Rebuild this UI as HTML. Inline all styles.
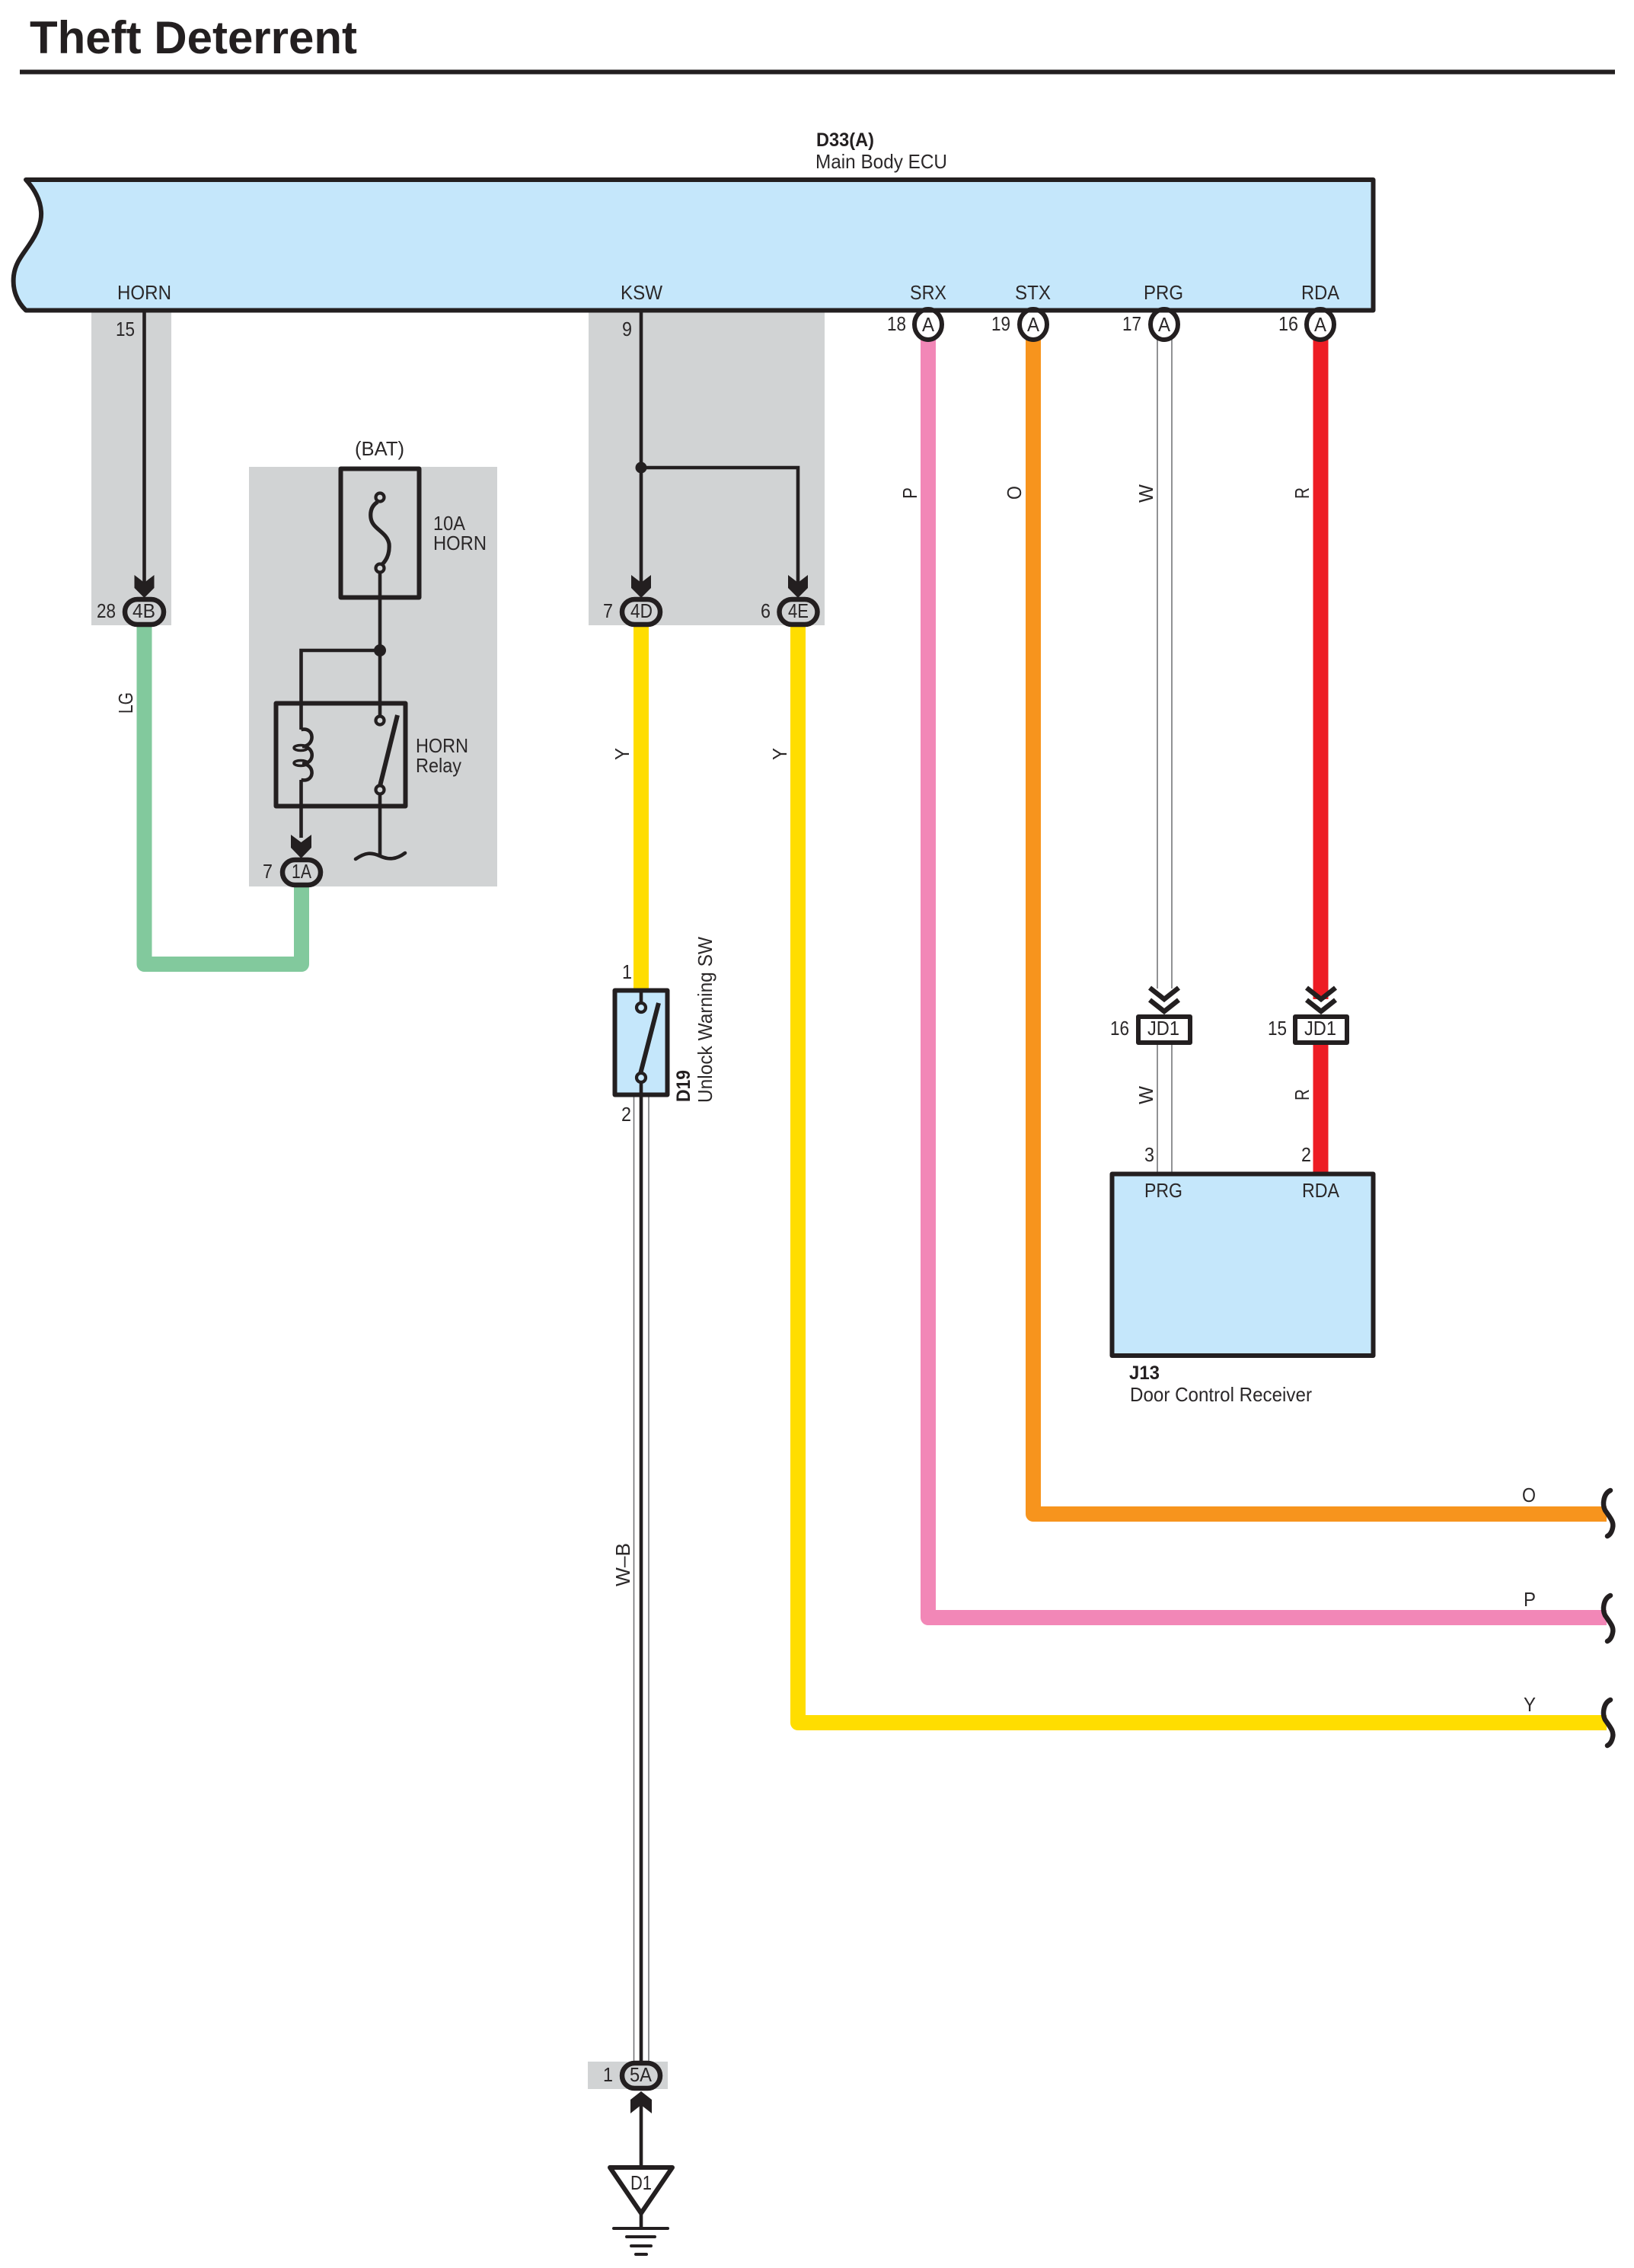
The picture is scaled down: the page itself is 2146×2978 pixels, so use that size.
<!DOCTYPE html>
<html><head><meta charset="utf-8"><title>Theft Deterrent</title>
<style>
html,body{margin:0;padding:0;background:#fff}
svg{display:block}
text{font-family:"Liberation Sans",sans-serif;font-size:26px;fill:#2b2829}
.b{font-weight:bold;fill:#231f20}
.l{fill:none;stroke:#231f20;stroke-width:4.6}
.k{fill:none;stroke:#231f20;stroke-width:6;stroke-linejoin:round}
.w{fill:none;stroke-width:20;stroke-linejoin:round;stroke-linecap:butt}
.t{fill:none;stroke:#6d6e71;stroke-width:1.5}
.a{fill:#231f20}
.c{fill:#d1d3d4;stroke:#231f20;stroke-width:6.5}
.o{fill:#d1d3d4;stroke:#231f20;stroke-width:4.2}
.s{fill:none;stroke:#231f20;stroke-width:6.5;stroke-linecap:round}
</style></head><body>
<svg xmlns="http://www.w3.org/2000/svg" width="2146" height="2978" viewBox="0 0 2146 2978">
<rect width="2146" height="2978" fill="#fff"/>

<text x="39" y="70" class="b" style="font-size:60px" textLength="430" lengthAdjust="spacingAndGlyphs">Theft Deterrent</text>
<rect x="26" y="91.5" width="2095" height="6" fill="#231f20"/>

<!-- grey blocks -->
<rect x="120" y="408" width="105" height="413" fill="#d1d3d4"/>
<rect x="773" y="408" width="310" height="413" fill="#d1d3d4"/>
<rect x="327" y="613" width="326" height="551" fill="#d1d3d4"/>
<rect x="772" y="2707" width="105" height="36" fill="#d1d3d4"/>

<!-- ECU -->
<path d="M34,236 H1803.5 V407.5 H34 C22,396 16,380 18,362 C20,345 30,334 38,322 C49,306 55,292 54,278 C53,262 45,248 34,236 Z" fill="#c5e7fb" stroke="#231f20" stroke-width="6" stroke-linejoin="round"/>
<text x="1072" y="192" class="b" style="font-size:25px" textLength="76" lengthAdjust="spacingAndGlyphs">D33(A)</text>
<text x="1071" y="221" textLength="173" lengthAdjust="spacingAndGlyphs">Main Body ECU</text>
<text x="154" y="393" textLength="71" lengthAdjust="spacingAndGlyphs">HORN</text>
<text x="815" y="393" textLength="55" lengthAdjust="spacingAndGlyphs">KSW</text>
<text x="1195" y="393" textLength="48" lengthAdjust="spacingAndGlyphs">SRX</text>
<text x="1333" y="393" textLength="47" lengthAdjust="spacingAndGlyphs">STX</text>
<text x="1502" y="393" textLength="52" lengthAdjust="spacingAndGlyphs">PRG</text>
<text x="1709" y="393" textLength="50" lengthAdjust="spacingAndGlyphs">RDA</text>

<!-- coloured wires -->
<path class="w" stroke="#82c99d" d="M189.5,820 V1266 H396 V1164"/>
<path class="w" stroke="#ffdd00" d="M842,820 V1298"/>
<path class="w" stroke="#ffdd00" d="M1048,820 V2262 H2110"/>
<path class="w" stroke="#f287b7" d="M1219,445 V2124 H2110"/>
<path class="w" stroke="#f7941d" d="M1357,445 V1988 H2110"/>
<path class="w" stroke="#ed1c24" d="M1734.5,445 V1312"/>
<path class="w" stroke="#ed1c24" d="M1734.5,1370 V1540"/>
<path class="t" d="M1520,445 V1298 M1539,445 V1298 M1520,1370 V1540 M1539,1370 V1540"/>
<path class="t" d="M832.5,1438 V2708 M852,1438 V2708"/>

<!-- squiggle ends -->
<path class="s" d="M2115,1957 C2106,1961 2104,1975 2108,1983 C2114,1992 2120,1998 2118,2006 C2117,2011 2115,2015 2111,2017"/>
<path class="s" d="M2115,2095 C2106,2099 2104,2113 2108,2121 C2114,2130 2120,2136 2118,2144 C2117,2149 2115,2153 2111,2155"/>
<path class="s" d="M2115,2232 C2106,2236 2104,2250 2108,2258 C2114,2267 2120,2273 2118,2281 C2117,2286 2115,2290 2111,2292"/>
<text x="1999" y="1972" textLength="18" lengthAdjust="spacingAndGlyphs">O</text>
<text x="2001" y="2109" textLength="16" lengthAdjust="spacingAndGlyphs">P</text>
<text x="2001" y="2247" textLength="16" lengthAdjust="spacingAndGlyphs">Y</text>

<!-- black wires -->
<path class="l" d="M189.5,408 V770"/>
<path class="l" d="M842,408 V770"/>
<path class="l" d="M842,614 H1048 V770"/>
<circle cx="842" cy="614" r="7.5" fill="#231f20"/>

<!-- arrows down -->
<path class="a" d="M176.5,755 L189.5,765 L202.5,755 V772 L189.5,785 L176.5,772 Z"/>
<path class="a" d="M829,755 L842,765 L855,755 V772 L842,785 L829,772 Z"/>
<path class="a" d="M1035,755 L1048,765 L1061,755 V772 L1048,785 L1035,772 Z"/>
<path class="a" d="M382,1096 L395.5,1106 L409,1096 V1113 L395.5,1127 L382,1113 Z"/>

<!-- pill connectors -->
<rect class="c" x="164" y="787" width="51" height="33" rx="16.5"/>
<rect class="c" x="817" y="787" width="50" height="33" rx="16.5"/>
<rect class="c" x="1023.5" y="787" width="50" height="33" rx="16.5"/>
<rect class="c" x="371" y="1129" width="50" height="33" rx="16.5"/>
<text x="174" y="811" textLength="30" lengthAdjust="spacingAndGlyphs">4B</text>
<text x="828" y="811" textLength="29" lengthAdjust="spacingAndGlyphs">4D</text>
<text x="1035" y="811" textLength="27" lengthAdjust="spacingAndGlyphs">4E</text>
<text x="383" y="1153" textLength="26" lengthAdjust="spacingAndGlyphs">1A</text>
<text x="127" y="811" textLength="25" lengthAdjust="spacingAndGlyphs">28</text>
<text x="792" y="811" textLength="13" lengthAdjust="spacingAndGlyphs">7</text>
<text x="999" y="811" textLength="13" lengthAdjust="spacingAndGlyphs">6</text>
<text x="345" y="1153" textLength="13" lengthAdjust="spacingAndGlyphs">7</text>
<text x="152" y="441" textLength="25" lengthAdjust="spacingAndGlyphs">15</text>
<text x="817" y="441" textLength="13" lengthAdjust="spacingAndGlyphs">9</text>

<!-- fuse -->
<rect class="k" x="447.5" y="615.5" width="103" height="169"/>
<text x="466" y="598" textLength="65" lengthAdjust="spacingAndGlyphs">(BAT)</text>
<path d="M496,659 C488,664 486,672 487,680 C489,695 508,698 511,714 C512,726 508,735 502,741" fill="none" stroke="#231f20" stroke-width="5.2"/>
<circle class="o" cx="499" cy="653" r="5.5"/>
<circle class="o" cx="499" cy="746" r="5.5"/>
<path class="l" d="M499,752 V940"/>
<circle cx="499" cy="854" r="8" fill="#231f20"/>
<path class="l" d="M499,854 H395.5 V958"/>
<text x="569" y="696" textLength="42" lengthAdjust="spacingAndGlyphs">10A</text>
<text x="569" y="722" textLength="70" lengthAdjust="spacingAndGlyphs">HORN</text>

<!-- relay -->
<rect class="k" x="362.5" y="923.5" width="170" height="135"/>
<path d="M395.5,958 C414,954 414,980 397,980 C414,980 414,1003 397,1003 C414,1003 414,1028 395.5,1024" fill="none" stroke="#231f20" stroke-width="4.6"/>
<ellipse cx="395" cy="982" rx="9" ry="3.5" fill="none" stroke="#231f20" stroke-width="3.5"/>
<ellipse cx="395" cy="1002" rx="9" ry="3.5" fill="none" stroke="#231f20" stroke-width="3.5"/>
<path class="l" d="M395.5,1024 V1100"/>
<circle class="o" cx="499" cy="946" r="5.5"/>
<circle class="o" cx="499" cy="1037" r="5.5"/>
<path d="M499,1032 L522,939" stroke="#231f20" stroke-width="6" fill="none"/>
<path class="l" d="M499,1043 V1124"/>
<path d="M467,1128 C480,1119 488,1119 499,1124 C510,1129 520,1129 532,1120" fill="none" stroke="#231f20" stroke-width="4.6" stroke-linecap="round"/>
<text x="546" y="988" textLength="69" lengthAdjust="spacingAndGlyphs">HORN</text>
<text x="546" y="1014" textLength="60" lengthAdjust="spacingAndGlyphs">Relay</text>

<!-- A connectors -->
<ellipse cx="1219" cy="426" rx="18" ry="20" fill="#fff" stroke="#231f20" stroke-width="6"/>
<ellipse cx="1357" cy="426" rx="18" ry="20" fill="#fff" stroke="#231f20" stroke-width="6"/>
<ellipse cx="1529" cy="426" rx="18" ry="20" fill="#fff" stroke="#231f20" stroke-width="6"/>
<ellipse cx="1734" cy="426" rx="18" ry="20" fill="#fff" stroke="#231f20" stroke-width="6"/>
<rect x="1180" y="404.5" width="600" height="6" fill="#231f20"/>
<text x="1211" y="435" textLength="16" lengthAdjust="spacingAndGlyphs">A</text>
<text x="1349" y="435" textLength="16" lengthAdjust="spacingAndGlyphs">A</text>
<text x="1521" y="435" textLength="16" lengthAdjust="spacingAndGlyphs">A</text>
<text x="1726" y="435" textLength="16" lengthAdjust="spacingAndGlyphs">A</text>
<text x="1165" y="434" textLength="25" lengthAdjust="spacingAndGlyphs">18</text>
<text x="1302" y="434" textLength="25" lengthAdjust="spacingAndGlyphs">19</text>
<text x="1474" y="434" textLength="25" lengthAdjust="spacingAndGlyphs">17</text>
<text x="1679" y="434" textLength="26" lengthAdjust="spacingAndGlyphs">16</text>

<!-- JD1 -->
<path d="M1510,1297 L1529,1312 L1548,1297 M1510,1313 L1529,1328 L1548,1313" fill="none" stroke="#231f20" stroke-width="6.5"/>
<path d="M1716,1297 L1735,1312 L1754,1297 M1716,1313 L1735,1328 L1754,1313" fill="none" stroke="#231f20" stroke-width="6.5"/>
<rect x="1495" y="1335" width="68" height="34" fill="#fff" stroke="#231f20" stroke-width="6" stroke-linejoin="round"/>
<rect x="1701" y="1335" width="68" height="34" fill="#fff" stroke="#231f20" stroke-width="6" stroke-linejoin="round"/>
<text x="1507" y="1359" textLength="42" lengthAdjust="spacingAndGlyphs">JD1</text>
<text x="1713" y="1359" textLength="42" lengthAdjust="spacingAndGlyphs">JD1</text>
<text x="1458" y="1359" textLength="25" lengthAdjust="spacingAndGlyphs">16</text>
<text x="1665" y="1359" textLength="25" lengthAdjust="spacingAndGlyphs">15</text>
<text x="1503" y="1525" textLength="13" lengthAdjust="spacingAndGlyphs">3</text>
<text x="1709" y="1525" textLength="13" lengthAdjust="spacingAndGlyphs">2</text>

<!-- J13 -->
<rect x="1460.5" y="1541.5" width="343" height="238.5" fill="#c5e7fb" stroke="#231f20" stroke-width="6" stroke-linejoin="round"/>
<text x="1503" y="1572" textLength="50" lengthAdjust="spacingAndGlyphs">PRG</text>
<text x="1710" y="1572" textLength="49" lengthAdjust="spacingAndGlyphs">RDA</text>
<text x="1483" y="1811" class="b" style="font-size:25px" textLength="40" lengthAdjust="spacingAndGlyphs">J13</text>
<text x="1484" y="1840" textLength="239" lengthAdjust="spacingAndGlyphs">Door Control Receiver</text>

<!-- D19 -->
<rect x="807.5" y="1300.5" width="69" height="137" fill="#c5e7fb" stroke="#231f20" stroke-width="6" stroke-linejoin="round"/>
<path class="l" d="M842,1300 V1317"/>
<circle cx="842" cy="1323" r="6" fill="#c5e7fb" stroke="#231f20" stroke-width="4.2"/>
<circle cx="842" cy="1415" r="6" fill="#c5e7fb" stroke="#231f20" stroke-width="4.2"/>
<path d="M841,1410 L865,1317" stroke="#231f20" stroke-width="6" fill="none"/>
<path class="l" d="M842,1421 V2708"/>
<text x="817" y="1285" textLength="13" lengthAdjust="spacingAndGlyphs">1</text>
<text x="816" y="1472" textLength="13" lengthAdjust="spacingAndGlyphs">2</text>
<text transform="translate(906,1447) rotate(-90)" class="b" style="font-size:25px" textLength="42" lengthAdjust="spacingAndGlyphs">D19</text>
<text transform="translate(935,1448) rotate(-90)" textLength="218" lengthAdjust="spacingAndGlyphs">Unlock Warning SW</text>

<!-- rotated wire labels -->
<text transform="translate(174,937) rotate(-90)" textLength="28" lengthAdjust="spacingAndGlyphs">LG</text>
<text transform="translate(826,998) rotate(-90)" textLength="16" lengthAdjust="spacingAndGlyphs">Y</text>
<text transform="translate(1033,998) rotate(-90)" textLength="16" lengthAdjust="spacingAndGlyphs">Y</text>
<text transform="translate(1204,655) rotate(-90)" textLength="15" lengthAdjust="spacingAndGlyphs">P</text>
<text transform="translate(1341,656) rotate(-90)" textLength="18" lengthAdjust="spacingAndGlyphs">O</text>
<text transform="translate(1514,660) rotate(-90)" textLength="24" lengthAdjust="spacingAndGlyphs">W</text>
<text transform="translate(1719,655) rotate(-90)" textLength="15" lengthAdjust="spacingAndGlyphs">R</text>
<text transform="translate(1514,1450) rotate(-90)" textLength="24" lengthAdjust="spacingAndGlyphs">W</text>
<text transform="translate(1719,1445) rotate(-90)" textLength="15" lengthAdjust="spacingAndGlyphs">R</text>
<text transform="translate(827,2083) rotate(-90)" textLength="57" lengthAdjust="spacingAndGlyphs">W–B</text>

<!-- 5A & ground -->
<rect class="c" x="817" y="2709" width="50" height="33" rx="16.5"/>
<text x="827" y="2733" textLength="29" lengthAdjust="spacingAndGlyphs">5A</text>
<text x="792" y="2733" textLength="13" lengthAdjust="spacingAndGlyphs">1</text>
<path class="a" d="M842,2746 L856,2757 V2775 L842,2764 L828,2775 V2757 Z"/>
<path class="l" d="M842,2760 V2845"/>
<path d="M801,2846 H883 L842,2906 Z" fill="#fff" stroke="#231f20" stroke-width="6" stroke-linejoin="round"/>
<text x="828" y="2875" textLength="28" lengthAdjust="spacingAndGlyphs">D1</text>
<path class="l" d="M842,2906 V2926"/>
<path d="M806,2926 H877 M823,2937 H860 M829,2949 H855 M835,2960 H849" stroke="#231f20" stroke-width="4" fill="none" stroke-linecap="round"/>
</svg>
</body></html>
